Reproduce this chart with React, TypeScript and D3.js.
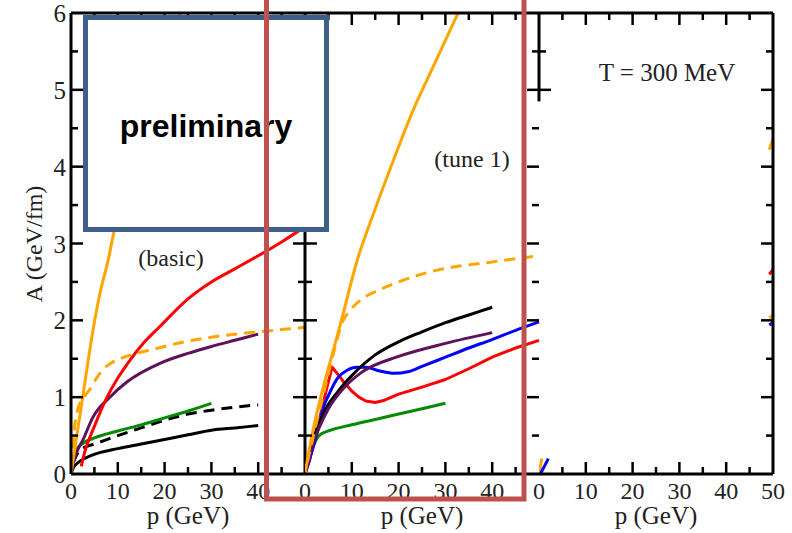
import React from "react";
import * as d3 from "d3";

type Pt = [number, number];

// ---- Left panel (basic) ----
const basicOrange: Pt[] = [[0,0],[0.5,0.2],[1.2,0.48],[2.5,1.0],[4.7,1.87],[6,2.3],[8,2.8],[9,3.1],[12,3.8],[15,4.5],[19,5.3],[23.3,6]];
const basicOrangeDash: Pt[] = [[0.2,0.1],[0.6,0.5],[1.5,0.85],[3,1.02],[4,1.1],[5.5,1.25],[7,1.37],[8.5,1.44],[10.5,1.5],[14,1.57],[18,1.63],[22,1.69],[26,1.74],[30,1.78],[35,1.82],[40,1.85],[45,1.88],[50,1.91]];
const basicRed: Pt[] = [[2.2,0.1],[3,0.3],[5,0.62],[7.7,1.0],[10,1.25],[12,1.43],[15,1.67],[19,1.92],[25,2.28],[30,2.5],[35,2.67],[40,2.84],[45,3.02],[50,3.22]];
const basicPurple: Pt[] = [[0,0],[0.5,0.15],[1,0.25],[2.6,0.45],[4.7,0.74],[8.3,1.0],[12,1.2],[19,1.44],[25,1.57],[30,1.66],[35,1.74],[40,1.82]];
const basicGreen: Pt[] = [[0,0],[0.5,0.2],[1,0.3],[2.6,0.4],[5,0.47],[10,0.56],[15,0.64],[20,0.73],[25,0.82],[30,0.92]];
const basicBlackDash: Pt[] = [[0.5,0.15],[1.5,0.28],[3,0.35],[5,0.39],[10,0.5],[15,0.6],[20,0.7],[25,0.78],[30,0.83],[35,0.87],[40,0.9]];
const basicBlack: Pt[] = [[0,0],[0.5,0.08],[1,0.12],[2,0.17],[4.7,0.25],[10,0.33],[15,0.39],[20,0.45],[25,0.51],[30,0.57],[35,0.6],[40,0.63]];

// ---- Middle panel (tune 1) ----
const tuneOrange: Pt[] = [[0,0],[1,0.35],[2,0.65],[4,1.15],[6,1.6],[8,2.05],[11,2.75],[15,3.45],[19,4.1],[23,4.72],[27,5.25],[32.7,6.0]];
const tuneOrangeDash: Pt[] = [[0.5,0.15],[2,0.55],[4,1.05],[6,1.55],[8,1.98],[9.5,2.12],[12,2.27],[16,2.4],[20,2.5],[28,2.65],[40,2.76],[50,2.84]];
const tuneBlack: Pt[] = [[0,0],[1,0.3],[2,0.5],[4,0.8],[7,1.07],[10,1.28],[15,1.55],[20,1.72],[25,1.85],[30,1.97],[35,2.07],[40,2.17]];
const tunePurple: Pt[] = [[0,0],[1,0.25],[3,0.6],[5,0.85],[8,1.1],[12,1.32],[20,1.53],[30,1.7],[40,1.84]];
const tuneBlue: Pt[] = [[0,0],[1,0.2],[2,0.4],[3,0.65],[4,0.88],[5,1.02],[7,1.25],[9,1.35],[11,1.39],[13,1.39],[16,1.34],[19,1.31],[22,1.33],[25,1.4],[30,1.52],[35,1.64],[40,1.75],[45,1.87],[50,1.98]];
const tuneRed: Pt[] = [[0,0],[1,0.18],[2,0.45],[3.2,0.74],[4.7,1.13],[5.8,1.39],[7,1.3],[8.5,1.18],[10,1.08],[11.5,1.0],[13,0.95],[15,0.93],[17,0.96],[20,1.04],[25,1.13],[30,1.23],[35,1.37],[40,1.52],[45,1.64],[50,1.74]];
const tuneGreen: Pt[] = [[0,0],[1,0.25],[2,0.4],[3,0.5],[5,0.56],[10,0.64],[15,0.71],[20,0.78],[25,0.85],[30,0.92]];

// ---- Right panel (T = 300 MeV): only fragments visible ----
const hotOrangeBase: Pt[] = [[0,0],[0.6,0.2]];
const hotBlueBase: Pt[] = [[0.3,0],[2,0.2]];
const hotOrangeTop: Pt[] = [[49.2,4.22],[50,4.36]];
const hotRed: Pt[] = [[49.2,2.6],[50,2.66]];
const hotOrangeMid: Pt[] = [[49.2,2.03],[50,2.06]];
const hotBlue: Pt[] = [[49.2,1.94],[50,1.97]];

const xMajor = [0, 10, 20, 30, 40, 50];
const xMinor = [5, 15, 25, 35, 45];
const yMajor = [0, 1, 2, 3, 4, 5, 6];
const yMinor = [0.5, 1.5, 2.5, 3.5, 4.5, 5.5];
const xLabelsFirst = [0, 10, 20, 30, 40];
const xLabelsLast = [0, 10, 20, 30, 40, 50];

const ORANGE = "#FFA500";
const RED = "#FF0000";
const PURPLE = "#5E1258";
const GREEN = "#008B00";
const BLUE = "#0000FF";
const BLACK = "#000000";

type Series = { data: Pt[]; color: string; dash?: boolean; linear?: boolean };

const panels: { series: Series[] }[] = [
  {
    series: [
      { data: basicBlack, color: BLACK },
      { data: basicBlackDash, color: BLACK, dash: true },
      { data: basicGreen, color: GREEN },
      { data: basicPurple, color: PURPLE },
      { data: basicRed, color: RED },
      { data: basicOrangeDash, color: ORANGE, dash: true },
      { data: basicOrange, color: ORANGE },
    ],
  },
  {
    series: [
      { data: tuneGreen, color: GREEN },
      { data: tuneRed, color: RED, linear: true },
      { data: tuneBlue, color: BLUE },
      { data: tuneBlack, color: BLACK },
      { data: tunePurple, color: PURPLE },
      { data: tuneOrangeDash, color: ORANGE, dash: true },
      { data: tuneOrange, color: ORANGE },
    ],
  },
  {
    series: [
      { data: hotOrangeBase, color: ORANGE, linear: true },
      { data: hotBlueBase, color: BLUE, linear: true },
      { data: hotOrangeTop, color: ORANGE, linear: true },
      { data: hotRed, color: RED, linear: true },
      { data: hotOrangeMid, color: ORANGE, linear: true },
      { data: hotBlue, color: BLUE, linear: true },
    ],
  },
];

const W = 792, H = 533;
const PLOT_LEFT = 71, PANEL_W = 234;
const Y_TOP = 13, Y_BOTTOM = 474;
const SERIF = "'Liberation Serif', 'Times New Roman', serif";

export default function App() {
  const y = d3.scaleLinear().domain([0, 6]).range([Y_BOTTOM, Y_TOP]);
  const xs = [0, 1, 2].map((i) =>
    d3.scaleLinear().domain([0, 50]).range([PLOT_LEFT + i * PANEL_W, PLOT_LEFT + (i + 1) * PANEL_W])
  );
  const MAJ = 12, MIN = 7;

  const els: React.ReactNode[] = [];

  xs.forEach((x, i) => {
    const x0 = x(0), x1 = x(50);
    const clipId = `clip${i}`;
    els.push(
      <defs key={`d${i}`}>
        <clipPath id={clipId}>
          <rect x={x0} y={Y_TOP} width={x1 - x0 + (i === 1 ? 2 : 0)} height={Y_BOTTOM - Y_TOP} />
        </clipPath>
      </defs>
    );
    panels[i].series.forEach((s, j) => {
      const gen = d3
        .line<Pt>()
        .x((d) => x(d[0]))
        .y((d) => y(d[1]))
        .curve(s.linear ? d3.curveLinear : d3.curveMonotoneX);
      els.push(
        <path
          key={`s${i}-${j}`}
          d={gen(s.data) || ""}
          fill="none"
          stroke={s.color}
          strokeWidth={3}
          strokeDasharray={s.dash ? "11 7" : undefined}
          strokeLinejoin="round"
          clipPath={`url(#${clipId})`}
        />
      );
    });

    els.push(<line key={`bt${i}`} x1={x0} x2={x1} y1={Y_BOTTOM} y2={Y_BOTTOM} stroke="#000" strokeWidth={3} />);
    els.push(<line key={`tp${i}`} x1={x0} x2={x1} y1={Y_TOP} y2={Y_TOP} stroke="#000" strokeWidth={3} />);
    if (i === 0) {
      els.push(<line key={`lf${i}`} x1={x0} x2={x0} y1={Y_TOP} y2={Y_BOTTOM} stroke="#000" strokeWidth={3} />);
    }
    if (i === 1) {
      els.push(<line key={`rt${i}`} x1={x1} x2={x1} y1={Y_TOP} y2={y(4.85)} stroke="#000" strokeWidth={3} />);
    } else {
      els.push(<line key={`rt${i}`} x1={x1} x2={x1} y1={Y_TOP} y2={Y_BOTTOM} stroke="#000" strokeWidth={3} />);
    }

    const xt = [...xMajor.map((v) => [v, MAJ]), ...xMinor.map((v) => [v, MIN])].filter(
      (t) => t[0] > 0 && t[0] < 50
    );
    xt.forEach(([v, len], k) => {
      els.push(<line key={`xb${i}-${k}`} x1={x(v)} x2={x(v)} y1={Y_BOTTOM} y2={Y_BOTTOM - len} stroke="#000" strokeWidth={2.5} />);
      els.push(<line key={`xt${i}-${k}`} x1={x(v)} x2={x(v)} y1={Y_TOP} y2={Y_TOP + len} stroke="#000" strokeWidth={2.5} />);
    });
    const yt = [...yMajor.map((v) => [v, MAJ]), ...yMinor.map((v) => [v, MIN])].filter(
      (t) => t[0] > 0 && t[0] < 6
    );
    yt.forEach(([v, len], k) => {
      if (i < 2 || v >= 5) {
        els.push(<line key={`yl${i}-${k}`} x1={x0} x2={x0 + len} y1={y(v)} y2={y(v)} stroke="#000" strokeWidth={2.5} />);
      }
      els.push(<line key={`yr${i}-${k}`} x1={x1} x2={x1 - len} y1={y(v)} y2={y(v)} stroke="#000" strokeWidth={2.5} />);
    });

    const labs = i === 2 ? xLabelsLast : xLabelsFirst;
    labs.forEach((v) => {
      els.push(
        <text key={`xl${i}-${v}`} x={x(v)} y={499} textAnchor="middle" fontFamily={SERIF} fontSize={24} fill="#222">
          {v}
        </text>
      );
    });
    els.push(
      <text key={`xa${i}`} x={(x0 + x1) / 2} y={524} textAnchor="middle" fontFamily={SERIF} fontSize={25} fill="#222">
        p (GeV)
      </text>
    );
  });

  yMajor.forEach((v) => {
    els.push(
      <text key={`yl-${v}`} x={66} y={y(v) + 9} textAnchor="end" fontFamily={SERIF} fontSize={25} fill="#222">
        {v}
      </text>
    );
  });

  return (
    <svg width={W} height={H} style={{ position: "absolute", left: 0, top: 0, background: "#fff" }}>
      <rect x={0} y={0} width={W} height={H} fill="#fff" />
      {els}
      <text transform="translate(42,244) rotate(-90)" textAnchor="middle" fontFamily={SERIF} fontSize={24} fill="#222">
        A (GeV/fm)
      </text>
      <text x={171} y={266} textAnchor="middle" fontFamily={SERIF} fontSize={24} fill="#222">(basic)</text>
      <text x={472} y={167} textAnchor="middle" fontFamily={SERIF} fontSize={24} fill="#222">(tune 1)</text>
      <text x={667} y={81} textAnchor="middle" fontFamily={SERIF} fontSize={25} fill="#222">T = 300 MeV</text>

      <rect x={85.5} y={17.5} width={241} height={212} fill="#fff" stroke="#3E5F8A" strokeWidth={5} />
      <text x={206} y={137} textAnchor="middle" fontFamily="'Liberation Sans', Arial, sans-serif" fontWeight="bold" fontSize={32} fill="#000">
        preliminary
      </text>
      <rect x={266.5} y={-10} width={257.5} height={509} fill="none" stroke="#C0504D" strokeWidth={5} />
    </svg>
  );
}
